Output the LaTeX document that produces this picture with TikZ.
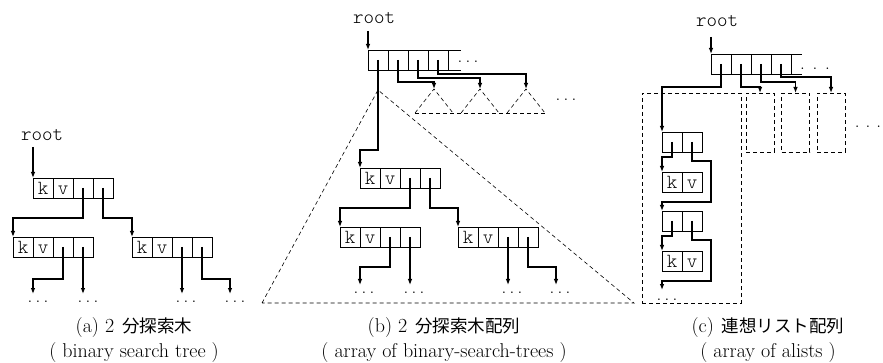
\documentclass[tikz,border=0pt]{standalone}
\usepackage{fontspec}
\newfontfamily\jp{Noto Sans CJK JP}
\newfontfamily\ttl{Latin Modern Mono Light}
\usetikzlibrary{arrows.meta}
\newcommand\kvnode[3]{%
  \node[cell] (#1a) at (#2,#3) {k};
  \node[cell] (#1b) at (#1a.north east) {v};
  \node[cell] (#1c) at (#1b.north east) {};
  \node[cell] (#1d) at (#1c.north east) {};
}
\newcommand\jpt[1]{{\fontsize{17.5}{20}\jp #1}}
\begin{document}
\begin{tikzpicture}[x=1pt,y=-1pt,
  cell/.style={draw,line width=0.85pt,minimum width=20pt,minimum height=20pt,inner sep=0pt,outer sep=0pt,anchor=north west,font=\fontsize{20}{20}\ttl,text height=12.8pt,text depth=0pt},
  ptr/.style={line width=1.15pt,-{Latex[length=6pt,width=4.6pt]}},
  boxline/.style={line width=0.85pt},
  dsh/.style={line width=0.6pt,dash pattern=on 4pt off 3pt},
  dbox/.style={draw,dsh,inner sep=0pt,outer sep=0pt,anchor=north west},
  rootlbl/.style={font=\fontsize{20}{20}\ttl,inner sep=0pt},
  ldots/.style={font=\fontsize{19}{19}\selectfont,inner sep=0pt},
  captxt/.style={font=\fontsize{20}{20}\selectfont,inner sep=0pt,anchor=base}]
\useasboundingbox (0,0) rectangle (883,363);
% ---------- (a) ----------
\node[rootlbl] (aroot) at (42,135) {root};
\kvnode{aT}{33}{178}
\kvnode{aL}{13}{237}
\kvnode{aR}{132}{237}
\coordinate (aroot0) at (33,147);
\draw[ptr] (aroot0) -- (aTa.north west);
\draw[ptr] (aTc.center) -- ++(0,30) -| (aLa.north west);
\draw[ptr] (aTd.center) -- ++(0,30) -| (aRa.north west);
\coordinate (ae1) at (33,294);
\coordinate (ae2) at (83,294);
\coordinate (ae3) at (182,294);
\coordinate (ae4) at (230,294);
\draw[ptr] (aLc.center) -- ++(0,32) -| (ae1);
\draw[ptr] (aLd.center) -- (ae2);
\draw[ptr] (aRc.center) -- (ae3);
\draw[ptr] (aRd.center) -- ++(0,32) -| (ae4);
\node[ldots] (ad1) at (38,302) {.\kern3.2pt.\kern3.2pt.};
\node[ldots] (ad2) at (88,302) {.\kern3.2pt.\kern3.2pt.};
\node[ldots] (ad3) at (186,302) {.\kern3.2pt.\kern3.2pt.};
\node[ldots] (ad4) at (235,302) {.\kern3.2pt.\kern3.2pt.};
% ---------- (b) ----------
\node[rootlbl] (broot) at (374,18) {root};
\node[cell] (bA1) at (368,50) {};
\node[cell] (bA2) at (bA1.north east) {};
\node[cell] (bA3) at (bA2.north east) {};
\node[cell] (bA4) at (bA3.north east) {};
\draw[boxline] (bA4.north east) -- ++(13,0);
\draw[boxline] (bA4.south east) -- ++(13,0);
\node[ldots] (bdA) at (468,62) {.\kern3.2pt.\kern3.2pt.};
\coordinate (broot0) at (368,31);
\draw[ptr] (broot0) -- (bA1.north west);
% small triangles
\coordinate (bt1) at (434,89);
\coordinate (bt2) at (480,89);
\coordinate (bt3) at (526,89);
\foreach \t in {bt1,bt2,bt3}{
  \draw[dsh] (\t) ++(-19,24) -- (\t) -- ++(19,24);
}
\draw[dsh] (415,113) -- (545,113);
\node[ldots] (bdT) at (566,100) {.\kern3.2pt.\kern3.2pt.};
% big triangle
\coordinate (bapex) at (378,90);
\draw[dsh] (262,303) -- (bapex) -- (634,303) -- cycle;
% subtree
\kvnode{bT}{360}{168}
\kvnode{bL}{340}{227}
\kvnode{bR}{458}{227}
\draw[ptr] (bA1.center) -- ++(0,90) -| (bTa.north west);
\draw[ptr] (bA2.center) -- ++(0,22) -| (bt1);
\draw[ptr] (bA3.center) -- ++(0,18) -| (bt2);
\draw[ptr] (bA4.center) -- ++(0,14) -| (bt3);
\draw[ptr] (bTc.center) -- ++(0,30) -| (bLa.north west);
\draw[ptr] (bTd.center) -- ++(0,30) -| (bRa.north west);
\coordinate (be1) at (360,285);
\coordinate (be2) at (410,285);
\coordinate (be3) at (508,285);
\coordinate (be4) at (556,285);
\draw[ptr] (bLc.center) -- ++(0,30) -| (be1);
\draw[ptr] (bLd.center) -- (be2);
\draw[ptr] (bRc.center) -- (be3);
\draw[ptr] (bRd.center) -- ++(0,30) -| (be4);
\node[ldots] (bd1) at (364,293) {.\kern3.2pt.\kern3.2pt.};
\node[ldots] (bd2) at (414,293) {.\kern3.2pt.\kern3.2pt.};
\node[ldots] (bd3) at (512,293) {.\kern3.2pt.\kern3.2pt.};
\node[ldots] (bd4) at (560,293) {.\kern3.2pt.\kern3.2pt.};
% ---------- (c) ----------
\node[rootlbl] (croot) at (717,21) {root};
\node[cell] (cA1) at (711,54) {};
\node[cell] (cA2) at (cA1.north east) {};
\node[cell] (cA3) at (cA2.north east) {};
\node[cell] (cA4) at (cA3.north east) {};
\draw[boxline] (cA4.north east) -- ++(11,0);
\draw[boxline] (cA4.south east) -- ++(11,0);
\node[ldots] (cdA) at (815,69) {. . .};
\coordinate (croot0) at (711,37);
\draw[ptr] (croot0) -- (cA1.north west);
\node[dbox,minimum width=99pt,minimum height=210pt] (cBig) at (642,93) {};
\node[dbox,minimum width=28pt,minimum height=59pt] (cB1) at (746,93) {};
\node[dbox,minimum width=28pt,minimum height=59pt] (cB2) at (781.5,93) {};
\node[dbox,minimum width=28pt,minimum height=59pt] (cB3) at (817,93) {};
\node[ldots] (cdR) at (868,127) {.\kern6pt.\kern6pt.};
% list
\node[cell] (cC1) at (662,132) {};
\node[cell] (cC2) at (cC1.north east) {};
\node[cell] (cK1) at (662,172) {k};
\node[cell] (cK2) at (cK1.north east) {v};
\node[cell] (cD1) at (662,211) {};
\node[cell] (cD2) at (cD1.north east) {};
\node[cell] (cL1) at (662,251) {k};
\node[cell] (cL2) at (cL1.north east) {v};
\coordinate (cend) at (662,290);
\draw[ptr] (cA1.center) -- ++(0,23) -| (cC1.north west);
\draw[ptr] (cA2.center) -- ++(0,23) -| (cB1.north);
\draw[ptr] (cA3.center) -- ++(0,18) -| (cB2.north);
\draw[ptr] (cA4.center) -- ++(0,13) -| (cB3.north);
\draw[ptr] (cC1.center) -- ++(0,15) -| (cK1.north west);
\draw[ptr] (cC2.center) -- ++(0,19) -- ++(19,0) -- ++(0,41) -| (cD1.north west);
\draw[ptr] (cD1.center) -- ++(0,15) -| (cL1.north west);
\draw[ptr] (cD2.center) -- ++(0,19) -- ++(19,0) -- ++(0,41) -| (cend);
\node[ldots] (cd1) at (667,300) {.\kern3.2pt.\kern3.2pt.};
% ---------- captions ----------
\node[captxt] (capa) at (134,332) {(a) 2\kern8pt\jpt{分探索木}};
\node[captxt] (capa2) at (134,357) {( binary search tree )};
\node[captxt] (capb) at (444,332) {(b) 2\kern8pt\jpt{分探索木配列}};
\node[captxt] (capb2) at (444,357) {( array of binary-search-trees )};
\node[captxt] (capc) at (768,332) {(c)\kern8pt\jpt{連想リスト配列}};
\node[captxt] (capc2) at (768,357) {( array of alists )};
\end{tikzpicture}
\end{document}
